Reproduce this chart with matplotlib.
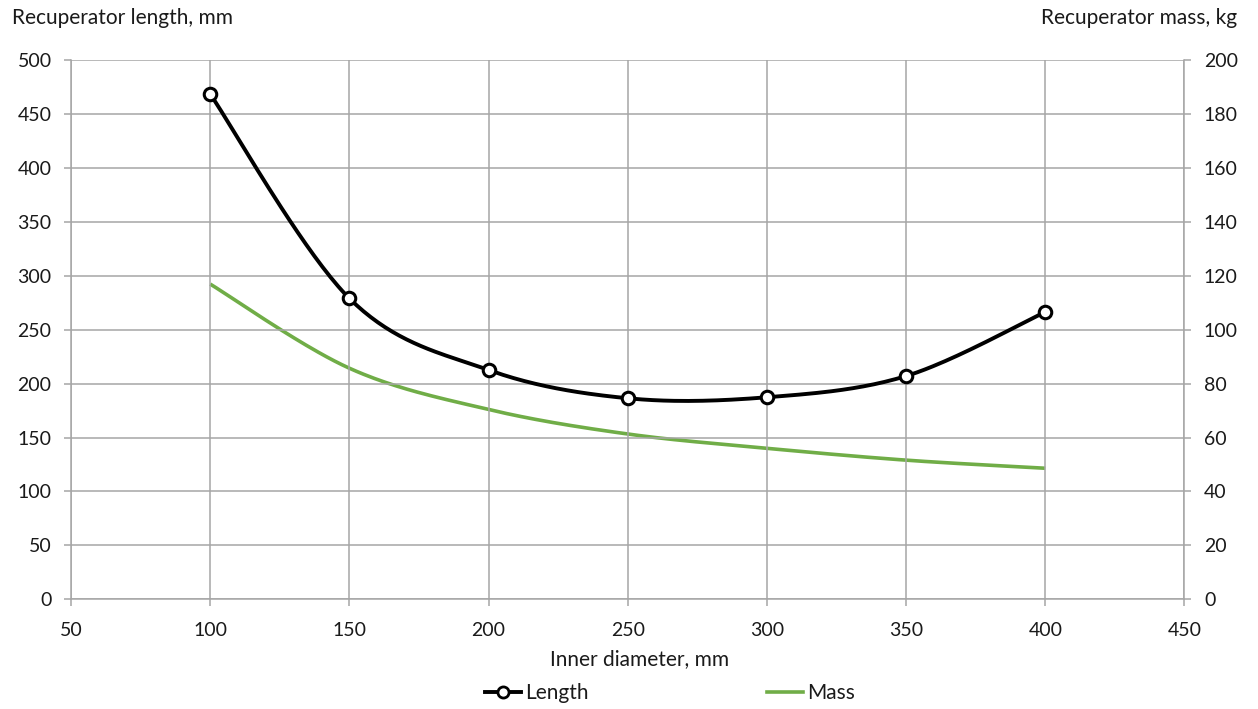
import numpy as np
import matplotlib
matplotlib.use("Agg")
import matplotlib.pyplot as plt
from matplotlib.lines import Line2D

plt.rcParams["font.family"] = ["Lato", "DejaVu Sans"]

# data
diameter = [100, 150, 200, 250, 300, 350, 400]
length_mm = [468.5, 279, 212.6, 186.4, 187.3, 207.0, 266.4]
mass_kg = [116.9, 85.7, 70.4, 61.3, 56.0, 51.6, 48.6]

x_ticks = [50, 100, 150, 200, 250, 300, 350, 400, 450]
left_ticks = [0, 50, 100, 150, 200, 250, 300, 350, 400, 450, 500]
right_ticks = [0, 20, 40, 60, 80, 100, 120, 140, 160, 180, 200]

GRID = "#a6a6a6"
GREEN = "#70ad47"
TXT = "#1a1a1a"
FS = 14
FS_TITLE = 15


def smooth(xs, ys, n=40):
    # Excel-style smoothed line: cubic Bezier segments with Catmull-Rom control points
    p = np.column_stack([xs, ys]).astype(float)
    p = np.vstack([p[0], p, p[-1]])
    out = []
    t = np.linspace(0, 1, n)[:, None]
    for i in range(1, len(p) - 2):
        p0, p1, p2, p3 = p[i - 1], p[i], p[i + 1], p[i + 2]
        c1 = p1 + (p2 - p0) / 6
        c2 = p2 - (p3 - p1) / 6
        seg = (1 - t) ** 3 * p1 + 3 * (1 - t) ** 2 * t * c1 + 3 * (1 - t) * t ** 2 * c2 + t ** 3 * p2
        out.append(seg if i == 1 else seg[1:])
    out = np.vstack(out)
    return out[:, 0], out[:, 1]


fig = plt.figure(figsize=(12.58, 7.09), dpi=100)
ax = fig.add_axes([71 / 1258, 1 - 599.3 / 709, (1184.5 - 71) / 1258, (599.3 - 60) / 709])
ax2 = ax.twinx()

sx, sy = smooth(diameter, mass_kg)
ax2.plot(sx, sy, color=GREEN, lw=2.6, solid_capstyle="butt", zorder=2)

lx, ly = smooth(diameter, length_mm)
ax.plot(lx, ly, color="black", lw=2.8, zorder=3)
ax.plot(diameter, length_mm, ls="none", marker="o", ms=9, mfc="white", mec="black", mew=2.2, zorder=4)

ax.set_zorder(ax2.get_zorder() + 1)
ax.patch.set_visible(False)

ax.set_xlim(50, 450)
ax.set_ylim(0, 500)
ax2.set_ylim(0, 200)
ax.set_xticks(x_ticks)
ax.set_yticks(left_ticks)
ax2.set_yticks(right_ticks)

ax.grid(True, color=GRID, lw=1.1)
ax.set_axisbelow(True)
for a in (ax, ax2):
    for s in a.spines.values():
        s.set_visible(False)
for a, side in ((ax, "bottom"), (ax, "left"), (ax2, "right")):
    a.spines[side].set_visible(True)
    a.spines[side].set_color(GRID)
    a.spines[side].set_linewidth(1.1)

ax.tick_params(axis="both", length=5, width=1.1, color=GRID, labelsize=FS, labelcolor=TXT)
ax.tick_params(axis="x", pad=11)
ax.tick_params(axis="y", pad=9)
ax2.tick_params(axis="y", length=5, width=1.1, color=GRID, labelsize=FS, pad=9, labelcolor=TXT)

fig.text(12 / 1258, 1 - 18 / 709, "Recuperator length, mm", fontsize=FS_TITLE, ha="left", va="center", color=TXT)
fig.text(1237 / 1258, 1 - 18 / 709, "Recuperator mass, kg", fontsize=FS_TITLE, ha="right", va="center", color=TXT)
fig.text(640 / 1258, 1 - 659 / 709, "Inner diameter, mm", fontsize=FS_TITLE, ha="center", va="center", color=TXT)

handles = [
    Line2D([], [], color="black", lw=2.8, marker="o", ms=8, mfc="white", mec="black", mew=2),
    Line2D([], [], color=GREEN, lw=2.6),
]
fig.legend(handles, ["Length", "Mass"], loc="center", bbox_to_anchor=(670 / 1258, 1 - 693 / 709),
           ncol=2, frameon=False, fontsize=FS_TITLE, handlelength=1.7, handletextpad=0.2,
           columnspacing=8.6, labelcolor=TXT)

fig.savefig("out.png", dpi=100)
